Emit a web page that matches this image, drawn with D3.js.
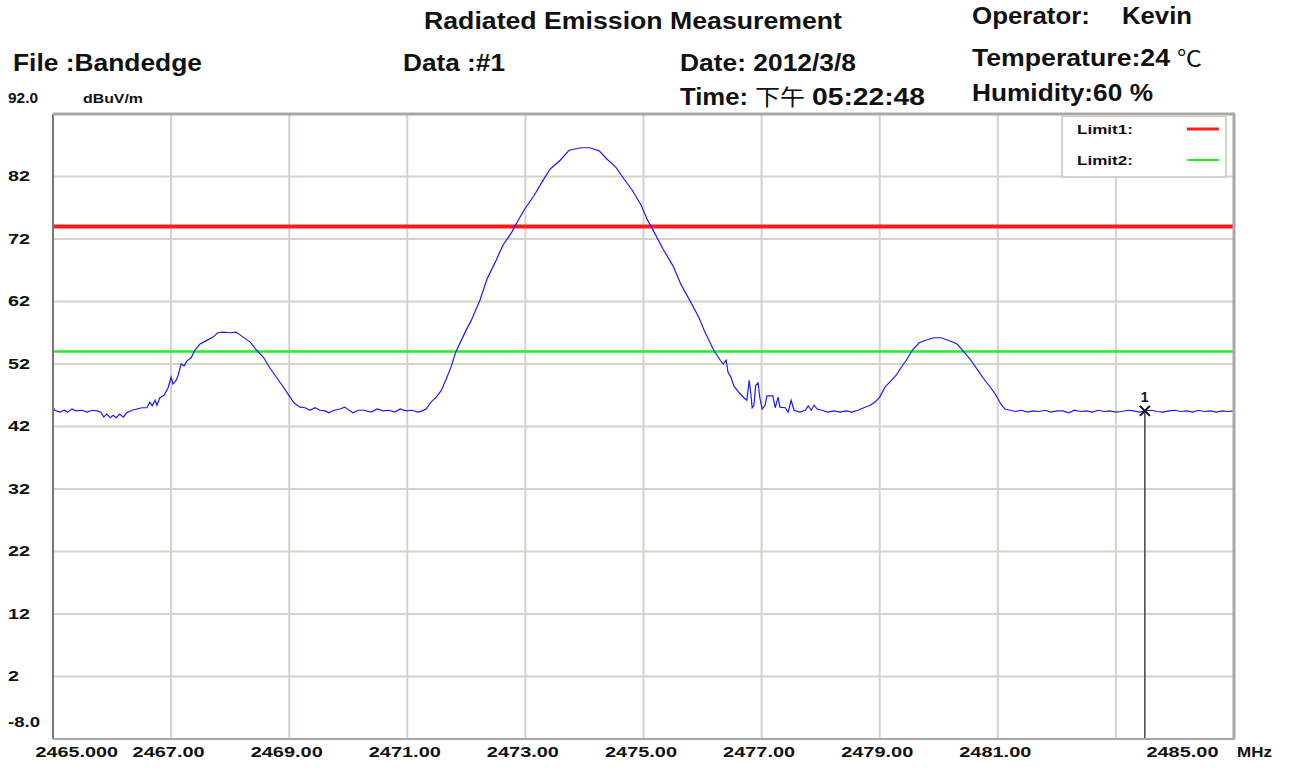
<!DOCTYPE html>
<html><head><meta charset="utf-8">
<script src="https://cdn.jsdelivr.net/npm/d3@7/dist/d3.min.js"></script>
<style>body{margin:0;background:#fff;} svg{display:block;font-family:"Liberation Sans",Arial,sans-serif;}</style>
</head><body>
<svg id="c" width="1289" height="769"></svg>
<script>
// ---- data ----
const freqs = [2465.00,2465.03,2465.12,2465.19,2465.25,2465.32,2465.39,2465.49,2465.58,2465.66,2465.75,2465.81,2465.86,2465.91,2465.97,2466.02,2466.07,2466.13,2466.19,2466.25,2466.34,2466.42,2466.51,2466.59,2466.64,2466.68,2466.73,2466.76,2466.81,2466.88,2466.95,2467.00,2467.03,2467.08,2467.12,2467.17,2467.22,2467.27,2467.34,2467.40,2467.49,2467.59,2467.71,2467.79,2467.88,2468.00,2468.10,2468.22,2468.34,2468.45,2468.57,2468.67,2468.79,2468.91,2469.00,2469.08,2469.18,2469.27,2469.35,2469.44,2469.52,2469.61,2469.67,2469.76,2469.86,2469.94,2470.03,2470.08,2470.17,2470.27,2470.39,2470.49,2470.59,2470.69,2470.79,2470.88,2470.98,2471.08,2471.18,2471.25,2471.32,2471.40,2471.49,2471.57,2471.66,2471.74,2471.82,2471.91,2471.99,2472.08,2472.23,2472.35,2472.49,2472.62,2472.77,2472.89,2472.99,2473.15,2473.28,2473.42,2473.59,2473.74,2473.84,2473.94,2474.09,2474.25,2474.38,2474.53,2474.67,2474.81,2474.96,2475.06,2475.18,2475.33,2475.50,2475.63,2475.80,2475.94,2476.04,2476.19,2476.30,2476.35,2476.40,2476.43,2476.48,2476.53,2476.62,2476.70,2476.75,2476.79,2476.82,2476.84,2476.87,2476.90,2476.94,2476.97,2477.01,2477.06,2477.09,2477.19,2477.23,2477.28,2477.31,2477.40,2477.45,2477.50,2477.55,2477.65,2477.74,2477.79,2477.84,2477.89,2477.94,2478.02,2478.12,2478.23,2478.33,2478.43,2478.53,2478.63,2478.73,2478.84,2478.92,2479.00,2479.09,2479.17,2479.28,2479.36,2479.45,2479.55,2479.67,2479.78,2479.92,2480.04,2480.16,2480.31,2480.43,2480.53,2480.61,2480.78,2480.88,2480.97,2481.05,2481.12,2481.21,2481.30,2481.40,2481.50,2481.60,2481.70,2481.80,2481.90,2482.00,2482.10,2482.20,2482.30,2482.40,2482.50,2482.60,2482.70,2482.80,2482.90,2483.00,2483.10,2483.20,2483.30,2483.40,2483.50,2483.60,2483.70,2483.80,2483.90,2484.00,2484.10,2484.20,2484.30,2484.40,2484.50,2484.60,2484.70,2484.80,2484.90,2485.00];
const levels = [45.1,44.6,44.3,44.6,44.3,44.8,44.5,44.6,44.3,44.6,44.5,44.3,43.5,44.0,43.4,43.8,43.4,44.0,43.5,44.2,44.6,44.8,45.0,45.0,45.9,45.3,46.2,45.4,46.6,47.0,48.2,49.9,48.8,49.3,50.2,52.0,51.7,52.5,53.0,54.2,55.2,55.7,56.3,57.0,57.1,57.0,57.1,56.3,55.5,54.2,53.0,51.4,49.8,48.2,46.9,45.8,45.1,45.0,44.6,45.0,44.6,44.5,44.2,44.6,44.8,45.1,44.5,44.2,44.6,44.6,44.3,44.8,44.5,44.6,44.3,44.8,44.5,44.6,44.3,44.5,44.8,45.9,46.7,47.7,49.6,51.5,53.9,55.7,57.3,58.9,62.2,65.6,68.3,71.0,73.1,75.2,76.8,79.0,81.1,83.2,84.6,86.2,86.4,86.6,86.6,86.1,84.8,83.5,81.6,79.8,77.4,75.2,73.1,70.4,67.7,64.8,61.9,59.4,57.1,54.2,52.6,52.0,52.6,50.7,49.9,48.5,47.4,46.6,46.2,49.4,47.0,45.0,45.4,48.6,49.0,46.6,44.8,45.4,46.9,46.9,45.0,46.7,45.1,45.0,44.3,46.2,44.6,44.3,44.6,45.3,44.6,45.4,44.8,44.6,44.3,44.5,44.3,44.5,44.3,44.6,45.0,45.4,45.9,46.7,48.3,49.1,50.2,51.4,52.6,54.2,55.4,55.8,56.2,56.2,55.8,55.2,53.9,52.8,51.7,49.4,48.2,47.0,45.6,44.8,44.6,44.4,44.6,44.3,44.5,44.4,44.6,44.3,44.5,44.5,44.2,44.6,44.4,44.5,44.3,44.6,44.4,44.5,44.3,44.4,44.6,44.5,44.3,44.5,44.6,44.4,44.3,44.5,44.6,44.4,44.5,44.3,44.6,44.4,44.5,44.3,44.5,44.4,44.5];
const limit1 = 74;
const limit2 = 54;
const markerFreq = 2483.49;
const markerLevel = 44.5;
const xTickValues = [2465, 2467, 2469, 2471, 2473, 2475, 2477, 2479, 2481, 2485];
const xTickLabels = ["2465.000","2467.00","2469.00","2471.00","2473.00","2475.00","2477.00","2479.00","2481.00","2485.00"];
const xGridValues = [2467, 2469, 2471, 2473, 2475, 2477, 2479, 2481, 2483];
const yTickValues = [82, 72, 62, 52, 42, 32, 22, 12, 2];
const yTickLabels = ["82","72","62","52","42","32","22","12","2"];

// ---- scales ----
const L = 53, R = 1234, T = 114, B = 739;
const x = d3.scaleLinear().domain([2465, 2485]).range([L, R]);
const y = d3.scaleLinear().domain([-8, 92]).range([B, T]);
const svg = d3.select("#c");

function txt(s, px, py, size, len, weight, fam) {
  const t = svg.append("text").attr("x", px).attr("y", py).attr("font-size", size)
    .attr("font-weight", weight || "bold").attr("fill", "#111").text(s);
  if (fam) t.attr("font-family", fam);
  if (len) t.attr("textLength", len).attr("lengthAdjust", "spacingAndGlyphs");
  return t;
}
txt("Radiated Emission Measurement", 424, 29, 23, 418);
txt("Operator:", 972, 24, 23, 118);
txt("Kevin", 1122, 24, 23, 70);
txt("File :Bandedge", 13, 71, 23, 189);
txt("Data :#1", 403, 71, 23, 102);
txt("Date: 2012/3/8", 680, 71, 23, 176);
txt("Temperature:24", 972, 66, 23, 198);
txt("℃", 1177, 66, 22, 25, "normal", "Noto Sans CJK SC");
txt("Time:", 680, 105, 23, 68);
txt("下午", 755, 105, 22, 50, "normal", "Noto Sans CJK SC");
txt("05:22:48", 812, 105, 23, 113);
txt("Humidity:60 %", 972, 101, 23, 181);
txt("92.0", 8, 103, 14, 30);
txt("dBuV/m", 83, 103, 13, 60);

svg.append("rect").attr("x", L).attr("y", T).attr("width", R - L).attr("height", B - T).attr("fill", "#fff");

svg.append("g").selectAll("line").data(xGridValues).join("line")
  .attr("x1", d => x(d)).attr("x2", d => x(d)).attr("y1", T).attr("y2", B)
  .attr("stroke", "#d6d2ca").attr("stroke-width", 2);
svg.append("g").selectAll("line").data(yTickValues).join("line")
  .attr("x1", L).attr("x2", R).attr("y1", d => y(d)).attr("y2", d => y(d))
  .attr("stroke", "#d6d2ca").attr("stroke-width", 2);

const yAxis = d3.axisLeft(y).tickValues(yTickValues).tickFormat((d, i) => yTickLabels[i]).tickSize(0);
const yg = svg.append("g").attr("transform", `translate(${L},0)`).call(yAxis);
yg.select(".domain").remove();
yg.selectAll("text").attr("x", null).attr("dx", null).attr("text-anchor", "start")
  .attr("transform", `translate(${8 - L},0)`).attr("font-size", 14).attr("font-weight", "bold")
  .attr("font-family", "Liberation Sans").attr("fill", "#111")
  .each(function(d, i) { d3.select(this).attr("textLength", yTickLabels[i].length * 11).attr("lengthAdjust", "spacingAndGlyphs"); });
txt("-8.0", 8, y(-8) - 12, 14, 32);

const xAxis = d3.axisBottom(x).tickValues(xTickValues).tickFormat((d, i) => xTickLabels[i]).tickSize(0);
const xg = svg.append("g").attr("transform", `translate(0,${B})`).call(xAxis);
xg.select(".domain").remove();
xg.selectAll("text").attr("y", 18).attr("dy", null).attr("font-size", 15).attr("font-weight", "bold")
  .attr("font-family", "Liberation Sans").attr("fill", "#111")
  .each(function(d, i) {
    const n = xTickLabels[i].length;
    const s = d3.select(this).attr("textLength", n * 10.3).attr("lengthAdjust", "spacingAndGlyphs");
    if (i === 0) s.attr("text-anchor", "start").attr("dx", -18);
    else if (i === xTickLabels.length - 1) s.attr("text-anchor", "end").attr("dx", -16);
    else s.attr("dx", -3);
  });
txt("MHz", 1237, B + 18, 14, 35);

svg.append("line").attr("x1", L).attr("x2", R).attr("y1", y(limit1)).attr("y2", y(limit1))
  .attr("stroke", "#ff1a1a").attr("stroke-width", 4);
svg.append("line").attr("x1", L).attr("x2", R).attr("y1", y(limit2)).attr("y2", y(limit2))
  .attr("stroke", "#22ee22").attr("stroke-width", 2.5);

const pts = freqs.map((f, i) => [f, levels[i]]).filter(d => d[1] != null);
svg.append("path").datum(pts)
  .attr("d", d3.line().x(d => x(d[0])).y(d => y(d[1])))
  .attr("fill", "none").attr("stroke", "#1a1aff").attr("stroke-width", 1.2);

const mx = x(markerFreq), my = y(markerLevel);
svg.append("line").attr("x1", mx).attr("x2", mx).attr("y1", my).attr("y2", B)
  .attr("stroke", "#444").attr("stroke-width", 1.5);
svg.append("path").attr("d", `M${mx-5},${my-5}L${mx+5},${my+5}M${mx-5},${my+5}L${mx+5},${my-5}`)
  .attr("stroke", "#111").attr("stroke-width", 2);
txt("1", mx - 4, my - 9, 14, null);

svg.append("line").attr("x1", L).attr("x2", L).attr("y1", T).attr("y2", B).attr("stroke", "#777").attr("stroke-width", 2);
svg.append("line").attr("x1", L).attr("x2", R + 1).attr("y1", T).attr("y2", T).attr("stroke", "#a8a8a8").attr("stroke-width", 3);
svg.append("line").attr("x1", R).attr("x2", R).attr("y1", T).attr("y2", B).attr("stroke", "#a8a8a8").attr("stroke-width", 3);
svg.append("line").attr("x1", L).attr("x2", R + 1).attr("y1", B).attr("y2", B).attr("stroke", "#a8a8a8").attr("stroke-width", 2);

const lg = svg.append("g");
lg.append("rect").attr("x", 1062).attr("y", 116).attr("width", 164).attr("height", 61)
  .attr("fill", "#fff").attr("stroke", "#d6d2ca").attr("stroke-width", 2);
const legendItems = [["Limit1:", "#ff1a1a", 3], ["Limit2:", "#22ee22", 2]];
legendItems.forEach((it, i) => {
  const yy = 129 + i * 31;
  lg.append("text").attr("x", 1077).attr("y", yy + 5).attr("font-size", 13).attr("font-weight", "bold")
    .attr("fill", "#111").attr("textLength", 56).attr("lengthAdjust", "spacingAndGlyphs").text(it[0]);
  lg.append("line").attr("x1", 1187).attr("x2", 1219).attr("y1", yy).attr("y2", yy)
    .attr("stroke", it[1]).attr("stroke-width", it[2]);
});
</script>
</body></html>
